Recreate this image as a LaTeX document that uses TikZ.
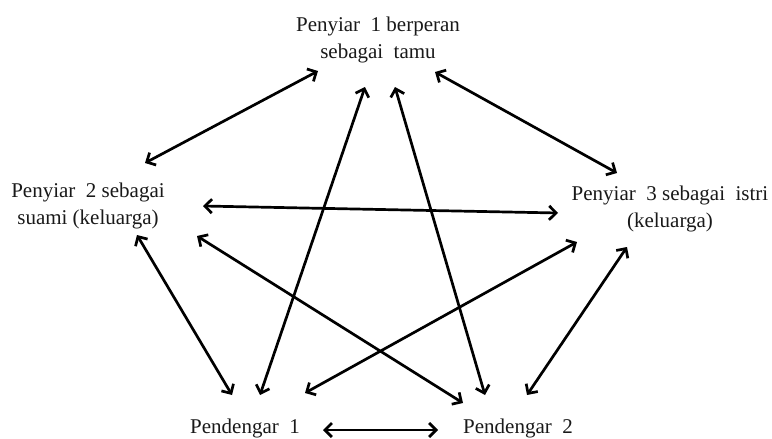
\documentclass[tikz,border=0pt]{standalone}
\usepackage{fontspec}
\setmainfont{Liberation Serif}
\usetikzlibrary{arrows.meta}
\begin{document}
\begin{tikzpicture}[x=1pt,y=-1pt,
  lbl/.style={font=\fontsize{21}{27}\selectfont, align=center, inner sep=0pt, text=black!90},
  link/.style={line width=2.7pt, {Straight Barb[length=7pt,width=14pt,line width=2.7pt]}-{Straight Barb[length=7pt,width=14pt,line width=2.7pt]}}]
\useasboundingbox (0,0) rectangle (772,439);
\node[lbl] (t) at (378,40) {Penyiar\ \ 1 berperan\\sebagai\ \ tamu};
\node[lbl] (l) at (88,206) {Penyiar\ \ 2 sebagai\\suami (keluarga)};
\node[lbl] (r) at (670,209) {Penyiar\ \ 3 sebagai\ \ istri\\(keluarga)\hspace{32pt}};
\node[lbl, anchor=base] (p1) at (245,433) {Pendengar\ \ 1};
\node[lbl, anchor=base] (p2) at (518,433) {Pendengar\ \ 2};
% endpoints
\coordinate (a1s) at (145,163); \coordinate (a1e) at (318,71);
\coordinate (a2s) at (435,72);  \coordinate (a2e) at (617,173);
\coordinate (a3s) at (203,206); \coordinate (a3e) at (558,213);
\coordinate (a4s) at (137,235); \coordinate (a4e) at (232,395);
\coordinate (a5s) at (197,236); \coordinate (a5e) at (463,403);
\coordinate (a6s) at (260,395); \coordinate (a6e) at (365,87);
\coordinate (a7s) at (485,395); \coordinate (a7e) at (395,87);
\coordinate (a8s) at (577,242); \coordinate (a8e) at (305,393);
\coordinate (a9s) at (627,247); \coordinate (a9e) at (527,395);
\coordinate (a10s) at (323,430); \coordinate (a10e) at (438,430);
\draw[link] (a1s) -- (a1e);
\draw[link] (a2s) -- (a2e);
\draw[link] (a3s) -- (a3e);
\draw[link] (a4s) -- (a4e);
\draw[link] (a5s) -- (a5e);
\draw[link] (a6s) -- (a6e);
\draw[link] (a7s) -- (a7e);
\draw[link] (a8s) -- (a8e);
\draw[link] (a9s) -- (a9e);
\draw[link] (a10s) -- (a10e);
\end{tikzpicture}
\end{document}
